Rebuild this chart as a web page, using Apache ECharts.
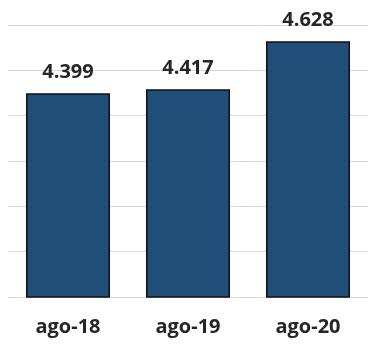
<!DOCTYPE html>
<html>
<head>
<meta charset="utf-8">
<script src="https://cdn.jsdelivr.net/npm/echarts@6/dist/echarts.min.js"></script>
<style>
  html, body { margin: 0; padding: 0; background: #fff; }
  #chart { width: 380px; height: 344px; }
</style>
</head>
<body>
<div id="chart"></div>
<script>
// data
const categories = ["ago-18", "ago-19", "ago-20"];
const values = [4.399, 4.417, 4.628];

const myChart = echarts.init(document.getElementById("chart"));

const option = {
  animation: false,
  grid: {
    left: 8,
    right: 12,
    top: 25,
    bottom: 47,
  },
  xAxis: {
    type: "category",
    data: categories,
    axisLine: { lineStyle: { color: "#d9d9d9", width: 1 } },
    axisTick: { show: false },
    axisLabel: {
      color: "#262626",
      fontFamily: "Open Sans",
      fontWeight: "bold",
      fontSize: 20,
      margin: 20,
    },
  },
  yAxis: {
    type: "value",
    min: 3.5,
    max: 4.7,
    interval: 0.2,
    axisLabel: { show: false },
    axisLine: { show: false },
    axisTick: { show: false },
    splitLine: { lineStyle: { color: "#d9d9d9", width: 1 } },
  },
  series: [
    {
      type: "bar",
      data: values,
      barCategoryGap: "30%",
      itemStyle: {
        color: "#1f4e79",
        borderColor: "#111",
        borderWidth: 1.5,
      },
      label: {
        show: true,
        position: "top",
        distance: 11,
        color: "#262626",
        fontFamily: "Open Sans",
        fontWeight: "bold",
        fontSize: 20,
        formatter: (p) => p.value.toFixed(3),
      },
    },
  ],
};

myChart.setOption(option);
</script>
</body>
</html>
